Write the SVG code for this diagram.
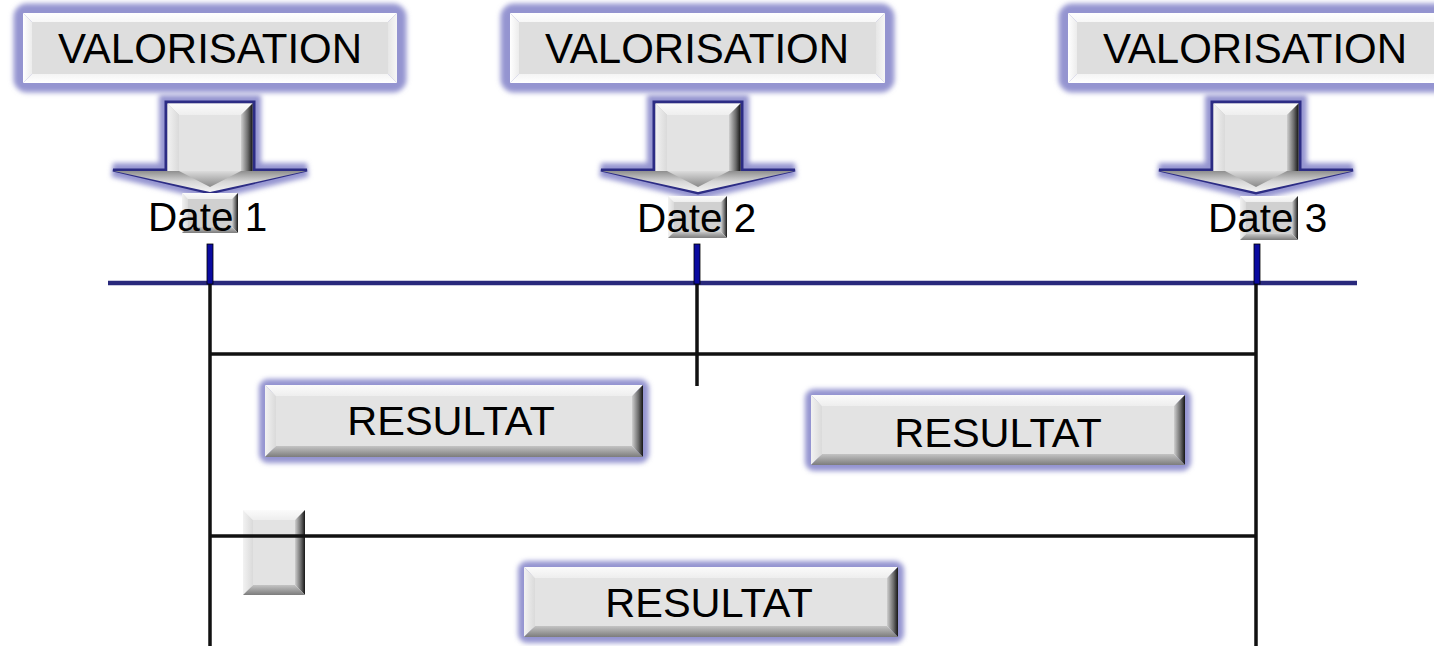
<svg xmlns="http://www.w3.org/2000/svg" width="1434" height="646" viewBox="0 0 1434 646">
  <defs>
    <style>
      .lbl { font-family: "Liberation Sans", Arial, sans-serif; fill: #000; }
      .big { font-size: 42px; text-anchor: middle; }
      .mid { font-size: 41.5px; text-anchor: middle; }
      .date { font-size: 40.5px; }
      .halo { fill: none; stroke: #9494d0; filter: url(#soft); }
      .halo-v { stroke-width: 19; }
      .halo-r { stroke-width: 12; }
      .face { fill: #e3e3e3; }
      .face-d { fill: #d0d0d0; }
      .face-v { fill: #dedede; }
      .bt { fill: url(#gTop); }
      .bl { fill: url(#gLeft); }
      .br { fill: url(#gRight); }
      .bb { fill: url(#gBottom); }
      .lt { fill: url(#lTop); }
      .ll { fill: url(#lLeft); }
      .lr { fill: url(#lRight); }
      .lb { fill: url(#lBottom); }
      .wire { stroke: #111; stroke-width: 3.5; fill: none; }
      .tick { fill: #0b0ba0; stroke: #000; stroke-width: 0.8; }
      .arrow-out { fill: #c8c8c8; stroke: #2c2c84; stroke-width: 3; stroke-linejoin: miter; }
      .arrow-halo { fill: none; stroke: #9494d0; stroke-width: 14; filter: url(#soft); }
      .head { fill: url(#gHead); }
      .headin { fill: url(#gHeadIn); }
    </style>
    <filter id="soft" x="-20%" y="-50%" width="140%" height="200%">
      <feGaussianBlur stdDeviation="2.8"/>
    </filter>
    <!-- raised bevel: bright top/left, dark right/bottom -->
    <linearGradient id="gTop" x1="0" y1="0" x2="0" y2="1">
      <stop offset="0" stop-color="#fbfbfb"/>
      <stop offset="1" stop-color="#eeeeee"/>
    </linearGradient>
    <linearGradient id="gLeft" x1="0" y1="0" x2="1" y2="0">
      <stop offset="0" stop-color="#f2f2f2"/>
      <stop offset="1" stop-color="#dadada"/>
    </linearGradient>
    <linearGradient id="gRight" x1="0" y1="0" x2="1" y2="0">
      <stop offset="0" stop-color="#cfcfcf"/>
      <stop offset="0.6" stop-color="#6a6a6a"/>
      <stop offset="1" stop-color="#151515"/>
    </linearGradient>
    <linearGradient id="gBottom" x1="0" y1="0" x2="0" y2="1">
      <stop offset="0" stop-color="#c4c4c4"/>
      <stop offset="1" stop-color="#7c7c7c"/>
    </linearGradient>
    <!-- soft bevel used on the header boxes -->
    <linearGradient id="lTop" x1="0" y1="0" x2="0" y2="1">
      <stop offset="0" stop-color="#ffffff"/>
      <stop offset="1" stop-color="#f7f7f7"/>
    </linearGradient>
    <linearGradient id="lLeft" x1="0" y1="0" x2="1" y2="0">
      <stop offset="0" stop-color="#ffffff"/>
      <stop offset="1" stop-color="#ececec"/>
    </linearGradient>
    <linearGradient id="lRight" x1="0" y1="0" x2="1" y2="0">
      <stop offset="0" stop-color="#e6e6e6"/>
      <stop offset="1" stop-color="#f6f6f6"/>
    </linearGradient>
    <linearGradient id="lBottom" x1="0" y1="0" x2="0" y2="1">
      <stop offset="0" stop-color="#f4f4f4"/>
      <stop offset="1" stop-color="#ffffff"/>
    </linearGradient>
    <linearGradient id="gHead" x1="0" y1="0" x2="0" y2="1">
      <stop offset="0" stop-color="#8e8e8e"/>
      <stop offset="0.5" stop-color="#d6d6d6"/>
      <stop offset="1" stop-color="#f4f4f4"/>
    </linearGradient>
    <linearGradient id="gHeadIn" x1="0" y1="0" x2="0" y2="1">
      <stop offset="0" stop-color="#dcdcdc"/>
      <stop offset="1" stop-color="#8a8a8a"/>
    </linearGradient>
  </defs>

  <rect x="0" y="0" width="1434" height="646" fill="#ffffff"/>

  <!-- timeline and guide lines -->
  <g id="connectors">
    <line x1="108" y1="285" x2="1357" y2="285" stroke="#9494d0" stroke-width="13" filter="url(#soft)"/>
    <line x1="108" y1="283" x2="1357" y2="283" stroke="#29297c" stroke-width="4.5"/>
    <line class="wire" x1="210" y1="283" x2="210" y2="646"/>
    <line class="wire" x1="697" y1="283" x2="697" y2="386"/>
    <line class="wire" x1="1256" y1="283" x2="1256" y2="646"/>
    <line class="wire" x1="210" y1="354" x2="1256" y2="354"/>
    <rect class="tick" x="207" y="244" width="6" height="40"/>
    <rect class="tick" x="694" y="244" width="6" height="40"/>
    <rect class="tick" x="1254" y="244" width="6" height="40"/>
  </g>

  <!-- header boxes -->
  <g id="valorisation-1">
    <rect class="halo halo-v" x="23" y="13" width="374" height="70" rx="4"/>
    <polygon class="lt" points="23,13 397,13 388,22 32,22"/>
    <polygon class="ll" points="23,13 32,22 32,74 23,83"/>
    <polygon class="lr" points="397,13 397,83 388,74 388,22"/>
    <polygon class="lb" points="23,83 32,74 388,74 397,83"/>
    <rect class="face-v" x="32" y="22" width="356" height="52"/>
    <text class="lbl big" x="210" y="63">VALORISATION</text>
  </g>
  <g id="valorisation-2">
    <rect class="halo halo-v" x="510" y="13" width="375" height="70" rx="4"/>
    <polygon class="lt" points="510,13 885,13 876,22 519,22"/>
    <polygon class="ll" points="510,13 519,22 519,74 510,83"/>
    <polygon class="lr" points="885,13 885,83 876,74 876,22"/>
    <polygon class="lb" points="510,83 519,74 876,74 885,83"/>
    <rect class="face-v" x="519" y="22" width="357" height="52"/>
    <text class="lbl big" x="697" y="63">VALORISATION</text>
  </g>
  <g id="valorisation-3">
    <rect class="halo halo-v" x="1068" y="13" width="375" height="70" rx="4"/>
    <polygon class="lt" points="1068,13 1443,13 1434,22 1077,22"/>
    <polygon class="ll" points="1068,13 1077,22 1077,74 1068,83"/>
    <polygon class="lr" points="1443,13 1443,83 1434,74 1434,22"/>
    <polygon class="lb" points="1068,83 1077,74 1434,74 1443,83"/>
    <rect class="face-v" x="1077" y="22" width="357" height="52"/>
    <text class="lbl big" x="1255" y="63">VALORISATION</text>
  </g>

  <!-- down arrows -->
  <g id="arrow-1">
    <path class="arrow-halo" d="M166,102 H254 V170 H307 L210,193 L113,170 H166 Z"/>
    <path class="arrow-out" d="M166,102 H254 V170 H307 L210,193 L113,170 H166 Z"/>
    <polygon class="head" points="114,171 306,171 210,192"/>
    <polygon class="headin" points="179,171 241,171 210,187"/>
    <polygon class="bt" points="167.5,103.5 252.5,103.5 241,115 179,115"/>
    <polygon class="bl" points="167.5,103.5 179,115 179,171 167.5,171"/>
    <polygon class="br" points="252.5,103.5 252.5,171 241,171 241,115"/>
    <rect class="face" x="179" y="115" width="62" height="56"/>
  </g>
  <g id="arrow-2">
    <path class="arrow-halo" d="M654,102 H742 V170 H795 L698,193 L601,170 H654 Z"/>
    <path class="arrow-out" d="M654,102 H742 V170 H795 L698,193 L601,170 H654 Z"/>
    <polygon class="head" points="602,171 794,171 698,192"/>
    <polygon class="headin" points="667,171 729,171 698,187"/>
    <polygon class="bt" points="655.5,103.5 740.5,103.5 729,115 667,115"/>
    <polygon class="bl" points="655.5,103.5 667,115 667,171 655.5,171"/>
    <polygon class="br" points="740.5,103.5 740.5,171 729,171 729,115"/>
    <rect class="face" x="667" y="115" width="62" height="56"/>
  </g>
  <g id="arrow-3">
    <path class="arrow-halo" d="M1212,102 H1300 V170 H1353 L1256,193 L1159,170 H1212 Z"/>
    <path class="arrow-out" d="M1212,102 H1300 V170 H1353 L1256,193 L1159,170 H1212 Z"/>
    <polygon class="head" points="1160,171 1352,171 1256,192"/>
    <polygon class="headin" points="1225,171 1287,171 1256,187"/>
    <polygon class="bt" points="1213.5,103.5 1298.5,103.5 1287,115 1225,115"/>
    <polygon class="bl" points="1213.5,103.5 1225,115 1225,171 1213.5,171"/>
    <polygon class="br" points="1298.5,103.5 1298.5,171 1287,171 1287,115"/>
    <rect class="face" x="1225" y="115" width="62" height="56"/>
  </g>

  <!-- date labels -->
  <g id="date-1">
    <polygon class="bt" points="182,193 238,193 232,199 188,199"/>
    <polygon class="bl" points="182,193 188,199 188,227 182,233"/>
    <polygon class="br" points="238,193 238,233 232,227 232,199"/>
    <polygon class="bb" points="182,233 188,227 232,227 238,233"/>
    <rect class="face-d" x="188" y="199" width="44" height="28"/>
    <text class="lbl date" x="148" y="231">Date 1</text>
  </g>
  <g id="date-2">
    <polygon class="bt" points="668,196 727,196 721,202 674,202"/>
    <polygon class="bl" points="668,196 674,202 674,232 668,238"/>
    <polygon class="br" points="727,196 727,238 721,232 721,202"/>
    <polygon class="bb" points="668,238 674,232 721,232 727,238"/>
    <rect class="face-d" x="674" y="202" width="47" height="30"/>
    <text class="lbl date" x="637" y="232">Date 2</text>
  </g>
  <g id="date-3">
    <polygon class="bt" points="1240,196 1298,196 1292,202 1246,202"/>
    <polygon class="bl" points="1240,196 1246,202 1246,234 1240,240"/>
    <polygon class="br" points="1298,196 1298,240 1292,234 1292,202"/>
    <polygon class="bb" points="1240,240 1246,234 1292,234 1298,240"/>
    <rect class="face-d" x="1246" y="202" width="46" height="32"/>
    <text class="lbl date" x="1208" y="232">Date 3</text>
  </g>

  <!-- result boxes -->
  <g id="resultat-1">
    <rect class="halo halo-r" x="265" y="385" width="378" height="72" rx="3"/>
    <polygon class="bt" points="265,385 643,385 632,396 276,396"/>
    <polygon class="bl" points="265,385 276,396 276,446 265,457"/>
    <polygon class="br" points="643,385 643,457 632,446 632,396"/>
    <polygon class="bb" points="265,457 276,446 632,446 643,457"/>
    <rect class="face" x="276" y="396" width="356" height="50"/>
    <text class="lbl mid" x="451" y="435">RESULTAT</text>
  </g>
  <g id="resultat-2">
    <rect class="halo halo-r" x="811" y="395" width="374" height="70" rx="3"/>
    <polygon class="bt" points="811,395 1185,395 1174,406 822,406"/>
    <polygon class="bl" points="811,395 822,406 822,454 811,465"/>
    <polygon class="br" points="1185,395 1185,465 1174,454 1174,406"/>
    <polygon class="bb" points="811,465 822,454 1174,454 1185,465"/>
    <rect class="face" x="822" y="406" width="352" height="48"/>
    <text class="lbl mid" x="998" y="447">RESULTAT</text>
  </g>
  <g id="marker-block">
    <polygon class="bt" points="243,510 305,510 295,520 253,520"/>
    <polygon class="bl" points="243,510 253,520 253,585 243,595"/>
    <polygon class="br" points="305,510 305,595 295,585 295,520"/>
    <polygon class="bb" points="243,595 253,585 295,585 305,595"/>
    <rect class="face" x="253" y="520" width="42" height="65"/>
  </g>
  <line class="wire" x1="210" y1="536" x2="1256" y2="536"/>
  <g id="resultat-3">
    <rect class="halo halo-r" x="524" y="567" width="374" height="70" rx="3"/>
    <polygon class="bt" points="524,567 898,567 887,578 535,578"/>
    <polygon class="bl" points="524,567 535,578 535,626 524,637"/>
    <polygon class="br" points="898,567 898,637 887,626 887,578"/>
    <polygon class="bb" points="524,637 535,626 887,626 898,637"/>
    <rect class="face" x="535" y="578" width="352" height="48"/>
    <text class="lbl mid" x="709" y="617">RESULTAT</text>
  </g>
</svg>
